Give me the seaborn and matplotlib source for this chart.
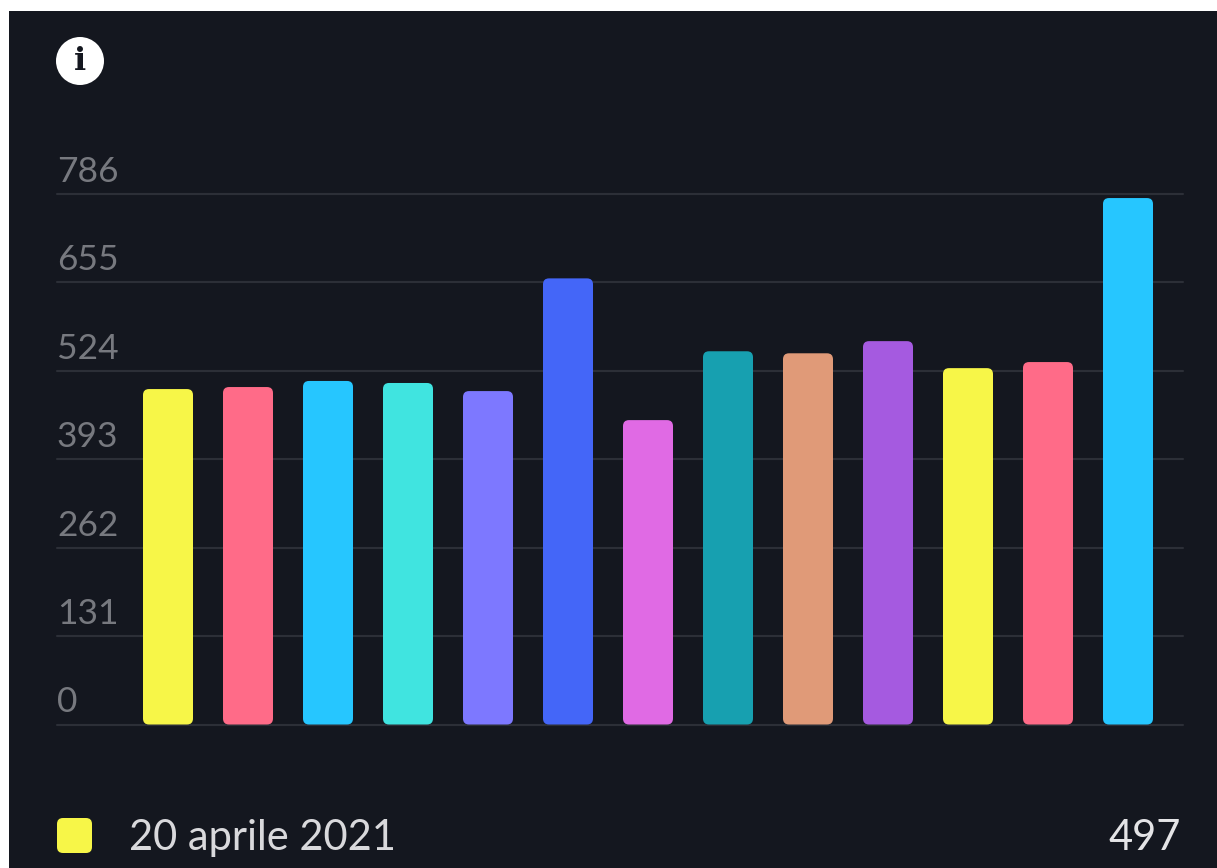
import matplotlib
matplotlib.use("Agg")
import matplotlib.pyplot as plt
import pandas as pd
import seaborn as sns
from matplotlib.patches import Circle, FancyBboxPatch, Rectangle
from matplotlib.transforms import ScaledTranslation

# values
positions = list(range(1, 14))
values = [497, 500, 509, 506, 494, 661, 451, 553, 550, 568, 528, 537, 780]
bar_colors = ["#f7f648", "#ff6b88", "#26c6ff", "#40e4e0", "#7d78ff", "#4466f8", "#e06ae4",
              "#17a0b0", "#e09a78", "#a55ae0", "#f7f648", "#ff6b88", "#26c6ff"]
y_ticks = [0, 131, 262, 393, 524, 655, 786]
legend_label = "20 aprile 2021"
legend_value = "497"

BG = "#14171f"
W, H = 1217, 868

sns.set_style("white")
plt.rcParams["font.family"] = ["Lato", "DejaVu Sans"]

fig = plt.figure(figsize=(W / 100, H / 100), dpi=100, facecolor="white")
# dark panel, the picture has a thin white edge on the left and top
fig.add_artist(Rectangle((9 / W, 0), 1 - 9 / W, 1 - 11 / H, transform=fig.transFigure,
                         fc=BG, ec="none", zorder=-1))

ax = fig.add_axes([57 / W, 1 - 724.5 / H, (1183 - 57) / W, (724.5 - 194) / H])
ax.patch.set_alpha(0)

df = pd.DataFrame({"pos": [str(p) for p in positions], "value": values})
sns.barplot(data=df, x="pos", y="value", hue="pos", palette=bar_colors, legend=False,
            width=0.625, saturation=1, ax=ax, zorder=3)

ax.set_xlim(-1.3875, 12.6875)
ax.set_ylim(0, 786)
ax.set_xlabel("")
ax.set_ylabel("")
ax.set_xticks([])
ax.set_yticks(y_ticks, [str(t) for t in y_ticks])
sns.despine(ax=ax, left=True, bottom=True, top=True, right=True)
ax.grid(axis="y", color="#2c2f37", lw=1.5, zorder=0)
ax.set_axisbelow(True)
for line in ax.get_ygridlines():
    line.set_clip_on(False)

ax.tick_params(axis="y", length=0, pad=0, labelsize=25.5, labelcolor="#77797f")
lift = ScaledTranslation(0, 6 / 100, fig.dpi_scale_trans)
for lbl in ax.get_yticklabels():
    lbl.set_ha("left")
    lbl.set_va("bottom")
    lbl.set_transform(lbl.get_transform() + lift)

# round the bar corners, geometry comes from the seaborn bars
for bar in list(ax.patches):
    x, y = bar.get_x(), bar.get_y()
    w, h = bar.get_width(), bar.get_height()
    c = bar.get_facecolor()
    bar.set_visible(False)
    ax.add_patch(FancyBboxPatch((x, y), w, h, boxstyle="round,pad=0,rounding_size=0.075",
                                mutation_aspect=118, fc=c, ec="none", zorder=3, clip_on=False))

# info icon
inch = fig.dpi_scale_trans
fig.add_artist(Circle((80 / 100, (H - 61) / 100), 24 / 100, transform=inch, fc="white", ec="none"))
fig.text(80 / W, 1 - 62 / H, "i", family="DejaVu Serif", weight="bold", fontsize=23,
         color=BG, ha="center", va="center")

# legend row
fig.add_artist(FancyBboxPatch((57 / 100, (H - 853) / 100), 35 / 100, 35 / 100,
                              boxstyle="round,pad=0,rounding_size=0.06", transform=inch,
                              fc="#f7f648", ec="none"))
fig.text(129 / W, 1 - 838 / H, legend_label, fontsize=30, color="#d9d9dc", ha="left", va="center")
fig.text(1181 / W, 1 - 838 / H, legend_value, fontsize=30, color="#e4e4e6", ha="right", va="center")

fig.savefig("out.png", dpi=100, facecolor="white")
